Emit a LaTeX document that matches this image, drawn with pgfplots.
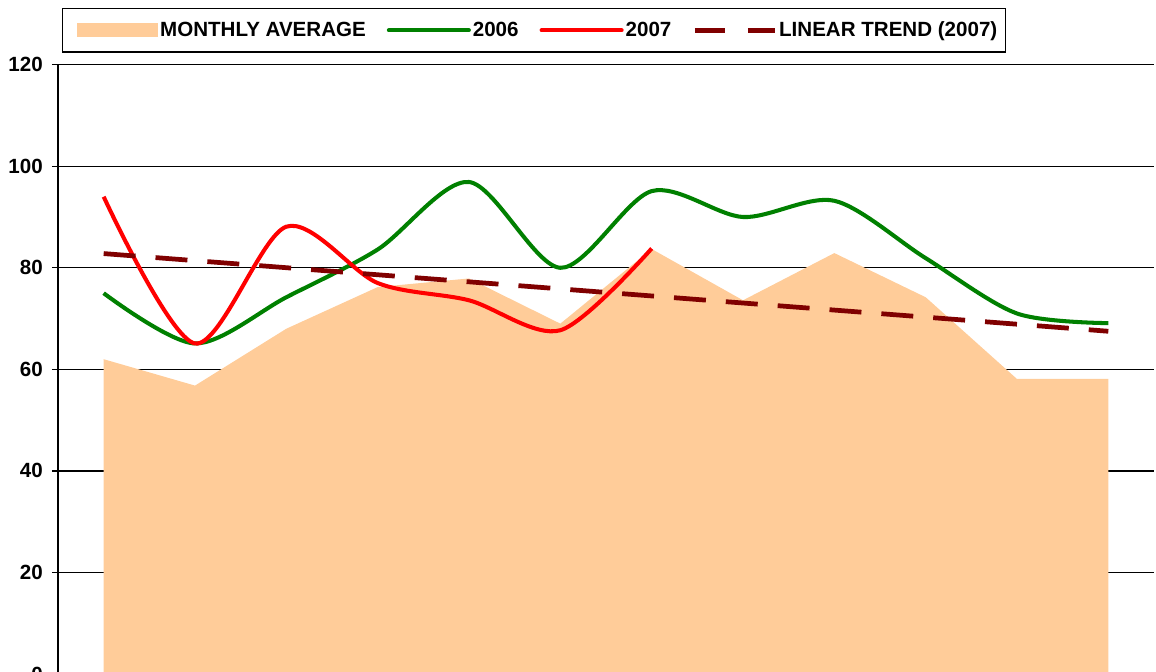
\documentclass[border=0pt]{standalone}
\usepackage{fontspec}
\setmainfont{Liberation Sans}
\usepackage{pgfplots}
\pgfplotsset{compat=1.18}

\definecolor{avgfill}{RGB}{255,204,153}
\definecolor{green06}{RGB}{0,128,0}
\definecolor{red07}{RGB}{255,0,0}
\definecolor{trendred}{RGB}{128,0,0}

\begin{document}
\begin{tikzpicture}
% picture is cut off at the bottom, like the reference
\useasboundingbox (-1.16,0.06) rectangle (21.96,13.48);
\clip (-1.16,0.06) rectangle (21.96,13.48);
\begin{axis}[
 scale only axis,
 width=21.92cm, height=12.186cm,
 xmin=0.5, xmax=12.5,
 ymin=0, ymax=120,
 ytick={0,20,...,120},
 xtick=\empty,
 axis x line*=bottom,
 axis y line*=left,
 axis line style={line width=1pt,-},
 ymajorgrids,
 major grid style={draw=black,line width=0.8pt},
 tick align=outside,
 major tick length=0.12cm,
 ytick style={draw=black,line width=0.8pt},
 /pgf/number format/assume math mode=true,
 tick label style={font=\fontsize{11.7}{13}\selectfont\bfseries},
 yticklabel style={xshift=-0.06cm},
 legend columns=4,
 legend cell align={left},
 legend style={
   at={(rel axis cs:0,1)}, anchor=south west,
   xshift=0.08cm, yshift=0.24cm,
   draw=black, line width=0.8pt,
   font=\fontsize{11.7}{13}\selectfont\bfseries,
   inner xsep=0.12cm, inner ysep=0.19cm,
   nodes={inner xsep=0.04cm},
   /tikz/every even column/.append style={column sep=0.38cm},
 },
]
\addplot[fill=avgfill,draw=none,
  legend image code/.code={\path (0cm,0cm); \fill[avgfill] (0.17cm,-0.14cm) rectangle (1.79cm,0.14cm);}]
 coordinates {(1,62) (2,56.8) (3,68) (4,76.2) (5,77.9) (6,69) (7,83.7) (8,73.6) (9,82.9) (10,74.2) (11,58.1) (12,58.1)} \closedcycle;
\addlegendentry{MONTHLY AVERAGE}

\addplot[green06,line width=2.3pt,smooth,
  legend image code/.code={\draw[green06,line width=2.3pt,line cap=round] (0cm,0cm) -- (1.6cm,0cm);}]
 coordinates {(1,75) (2,65.1) (3,74.2) (4,83.6) (5,96.9) (6,80) (7,95.1) (8,90) (9,93.2) (10,81.9) (11,71) (12,69.1)};
\addlegendentry{2006}

\addplot[red07,line width=2.3pt,smooth,
  legend image code/.code={\draw[red07,line width=2.3pt,line cap=round] (0cm,0cm) -- (1.6cm,0cm);}]
 coordinates {(1,94) (2,65.1) (3,88.1) (4,77) (5,73.6) (6,67.7) (7,83.8)};
\addlegendentry{2007}

\addplot[trendred,line width=2.7pt,dash pattern=on 0.64cm off 0.4cm,
  legend image code/.code={\draw[trendred,line width=2.7pt,dash pattern=on 0.6cm off 0.46cm] (0cm,0cm) -- (1.6cm,0cm);}]
 coordinates {(1,82.8) (12,67.5)};
\addlegendentry{LINEAR TREND (2007)}
\end{axis}
\end{tikzpicture}
\end{document}
